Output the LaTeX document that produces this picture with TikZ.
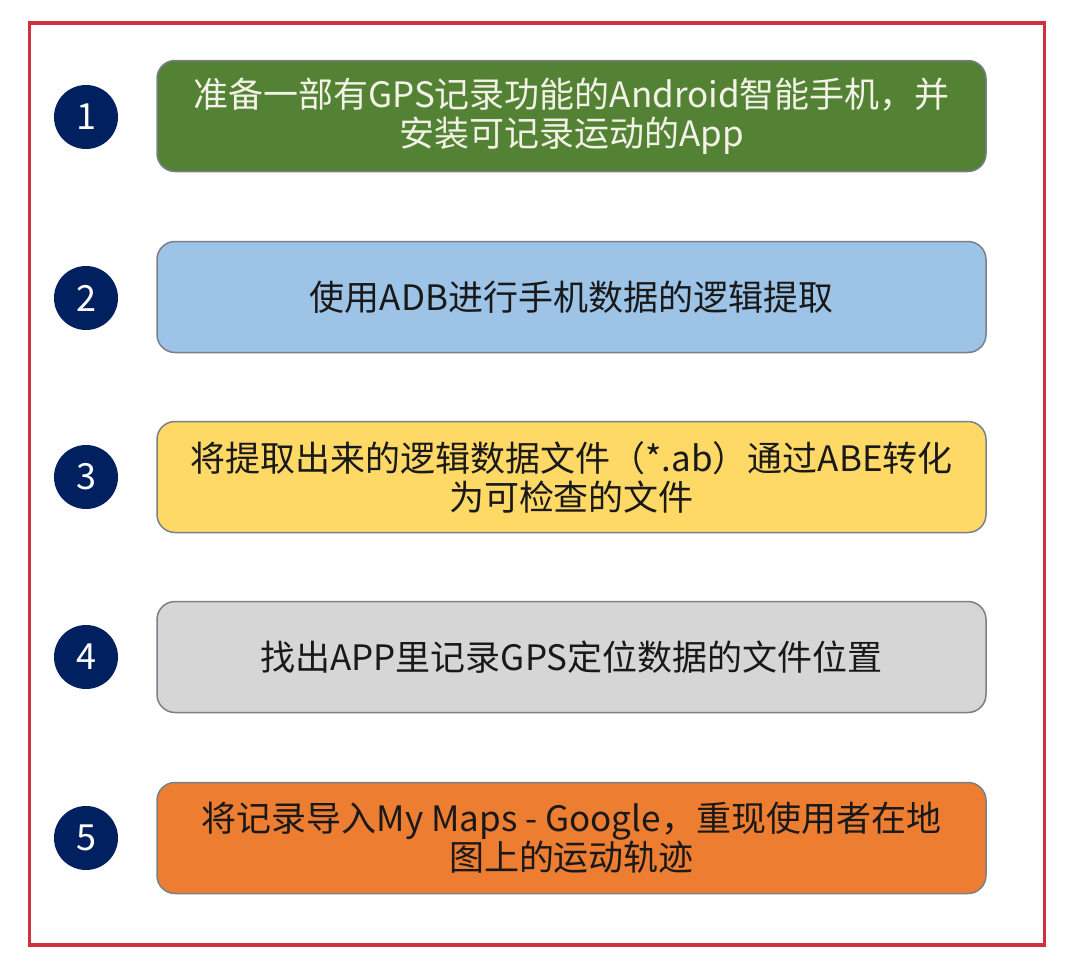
\documentclass[tikz,border=0pt]{standalone}
\usepackage{fontspec}
\setmainfont{Noto Sans CJK SC}
\usetikzlibrary{positioning}
\definecolor{navy}{HTML}{002060}
\definecolor{bgreen}{HTML}{548235}
\definecolor{bblue}{HTML}{9DC3E6}
\definecolor{byellow}{HTML}{FFD966}
\definecolor{bgray}{HTML}{D6D6D6}
\definecolor{borange}{HTML}{ED7D31}
\definecolor{frame}{HTML}{D0313F}
\definecolor{edge}{HTML}{7A7F88}
\definecolor{cream}{HTML}{F2F2E6}
\tikzset{
  numc/.style={circle, fill=navy, minimum size=64pt, inner sep=0pt, text=white, font=\fontsize{36}{40}\selectfont},
  stepbox/.style={draw=edge, line width=1.5pt, rounded corners=18pt, minimum width=829pt, minimum height=111pt, inner sep=0pt, align=center, font=\fontsize{35}{39}\selectfont, text=black!90},
}
\begin{document}
\begin{tikzpicture}[x=1pt,y=-1pt]
\useasboundingbox (0,0) rectangle (1080,964);
\fill[white] (0,0) rectangle (1080,964);
\node[draw=frame, line width=3.5pt, minimum width=1015pt, minimum height=922pt, inner sep=0pt] (frm) at (537,484) {};
\node[numc] (c1) at (86,117) {1};
\node[numc] (c2) at (86,298) {2};
\node[numc] (c3) at (86,477) {3};
\node[numc] (c4) at (86,657) {4};
\node[numc] (c5) at (86,838) {5};
\node[stepbox, fill=bgreen, text=cream] (b1) at (571.5,116) {准备一部有GPS记录功能的Android智能手机，并\\安装可记录运动的App};
\node[stepbox, fill=bblue] (b2) at (571.5,297) {使用ADB进行手机数据的逻辑提取};
\node[stepbox, fill=byellow] (b3) at (571.5,477) {将提取出来的逻辑数据文件（*.ab）通过ABE转化\\为可检查的文件};
\node[stepbox, fill=bgray] (b4) at (571.5,657) {找出APP里记录GPS定位数据的文件位置};
\node[stepbox, fill=borange] (b5) at (571.5,838) {将记录导入My Maps - Google，重现使用者在地\\图上的运动轨迹};
\end{tikzpicture}
\end{document}
